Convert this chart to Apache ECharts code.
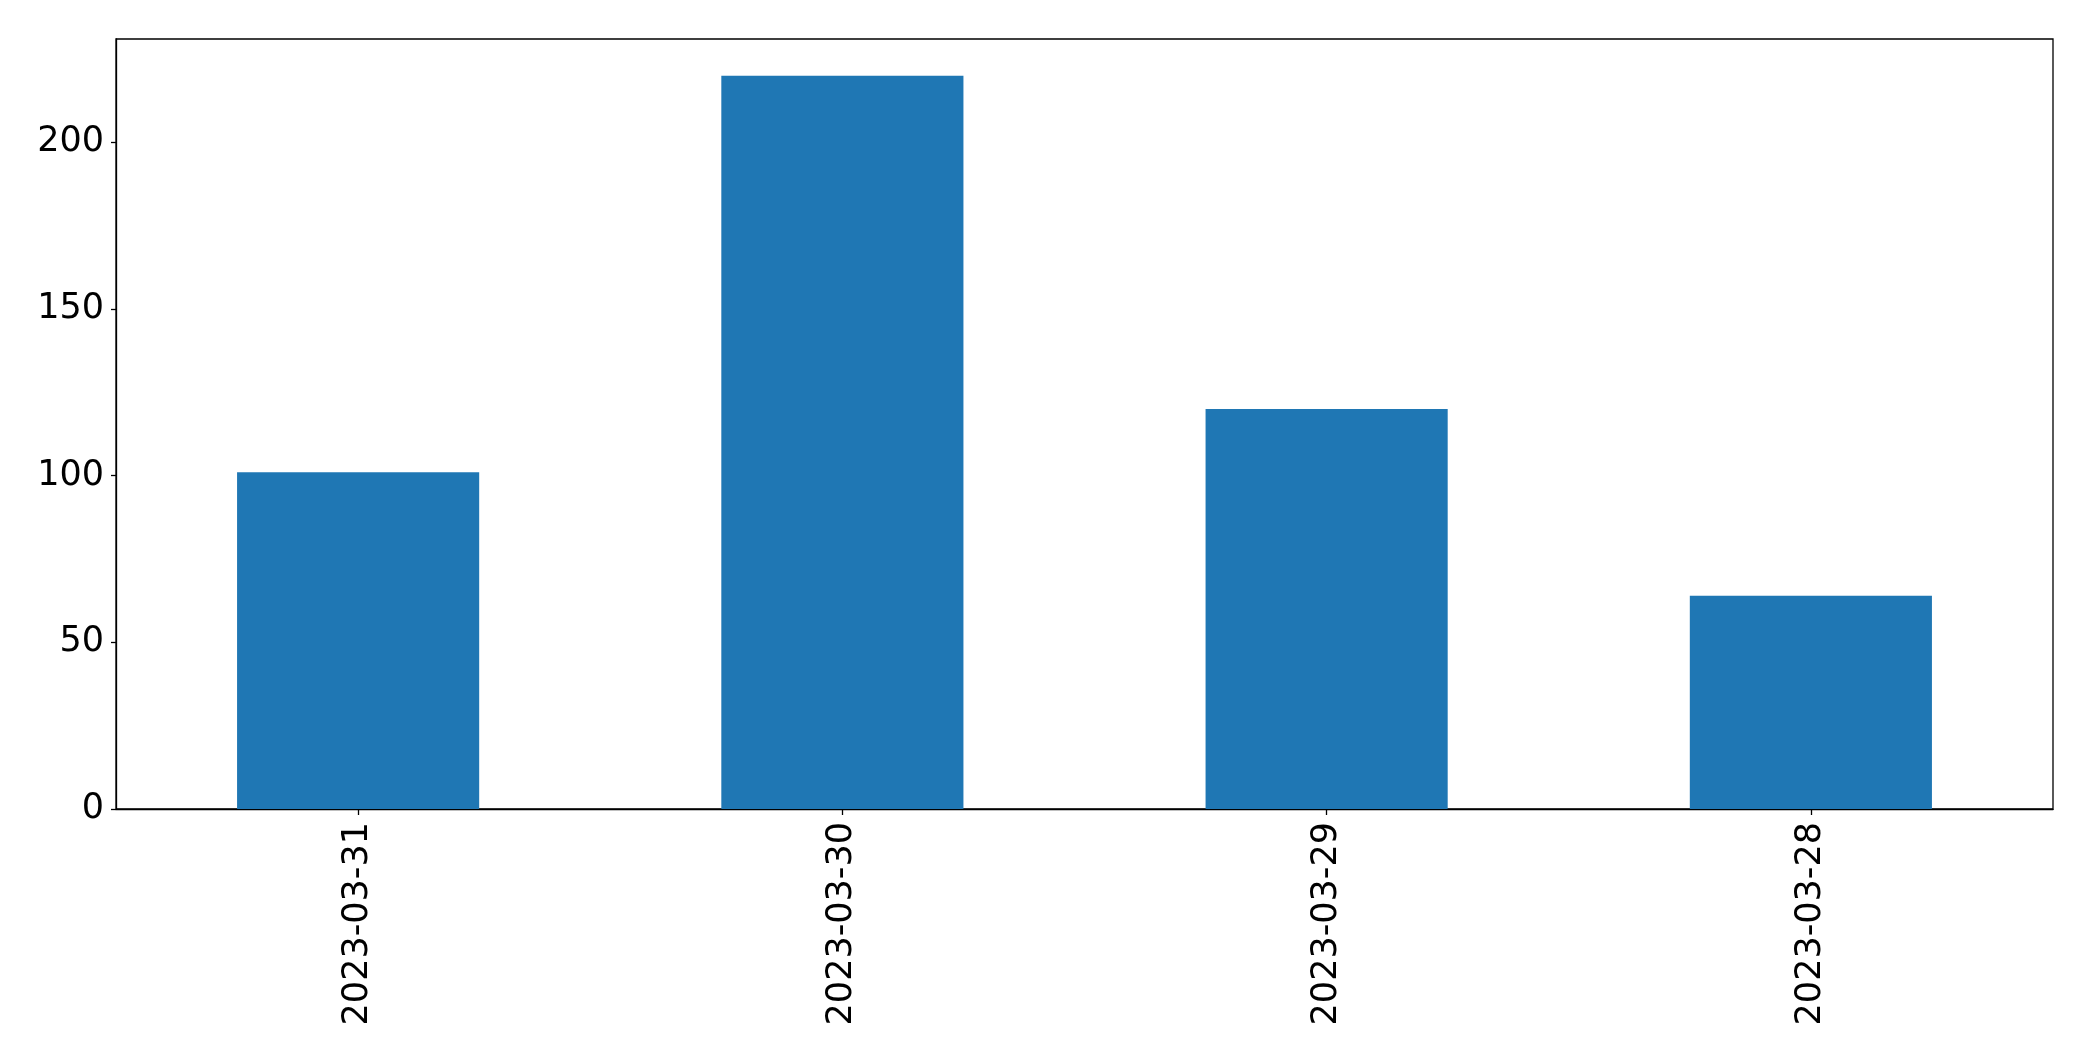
<!DOCTYPE html>
<html>
<head>
<meta charset="utf-8">
<script src="https://cdn.jsdelivr.net/npm/echarts@6/dist/echarts.min.js"></script>
<style>
html,body{margin:0;padding:0;background:#fff;}
#chart{width:2093px;height:1061px;}
</style>
</head>
<body>
<div id="chart"></div>
<script>
const categories = ['2023-03-31', '2023-03-30', '2023-03-29', '2023-03-28'];
const values = [101, 220, 120, 64];
const yTicks = [0, 50, 100, 150, 200];

const chart = echarts.init(document.getElementById('chart'), null, {renderer: 'canvas'});
chart.setOption({
  animation: false,
  backgroundColor: '#ffffff',
  grid: {
    left: 116, right: 40, top: 39, bottom: 252,
    show: true, borderColor: '#000', borderWidth: 1.3, backgroundColor: 'transparent',
    containLabel: false
  },
  xAxis: {
    type: 'category',
    data: categories,
    axisLine: {show: true, lineStyle: {color: '#000', width: 1.3}},
    axisTick: {show: true, alignWithLabel: true, length: 6, lineStyle: {color: '#000', width: 1.3}},
    axisLabel: {
      rotate: 90, margin: 13, color: '#000',
      fontFamily: 'DejaVu Sans', fontSize: 35, interval: 0
    },
    splitLine: {show: false}
  },
  yAxis: {
    type: 'value',
    min: 0, max: 231, interval: 50,
    axisLine: {show: true, lineStyle: {color: '#000', width: 1.3}},
    axisTick: {show: true, length: 5, lineStyle: {color: '#000', width: 1.3}, customValues: yTicks},
    axisLabel: {
      margin: 12, color: '#000',
      fontFamily: 'DejaVu Sans', fontSize: 35, customValues: yTicks
    },
    splitLine: {show: false}
  },
  series: [{
    type: 'bar',
    data: values,
    barWidth: '50%',
    itemStyle: {color: '#1f77b4'}
  }]
});
</script>
</body>
</html>
